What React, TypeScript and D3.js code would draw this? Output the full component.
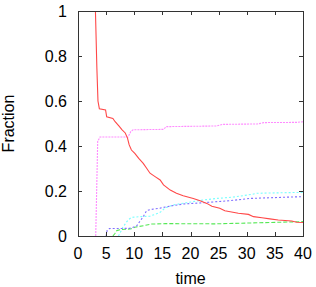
import React from 'react';
import * as d3 from 'd3';

// [time, fraction] pairs
const redSeries: [number, number][] = [
  [3.1, 1.0], [3.35, 0.75], [3.55, 0.6], [3.8, 0.565], [4.9, 0.56], [5.1, 0.53],
  [6.2, 0.522], [6.6, 0.508], [7.3, 0.488], [7.8, 0.473], [8.4, 0.458], [8.8, 0.435],
  [9.1, 0.405], [9.5, 0.382], [10.1, 0.367], [10.8, 0.345], [11.6, 0.323], [12.2, 0.301],
  [12.8, 0.279], [13.7, 0.264], [14.6, 0.249], [15.2, 0.227], [16.4, 0.204], [17.5, 0.19],
  [18.7, 0.179], [20.5, 0.167], [21.7, 0.157], [22.9, 0.145], [23.8, 0.132], [25.2, 0.123],
  [26.1, 0.112], [27.3, 0.107], [28.5, 0.101], [30.3, 0.096], [31.2, 0.086], [32.7, 0.081],
  [34.1, 0.076], [35.6, 0.071], [38.0, 0.067], [38.9, 0.061], [40, 0.06],
];
const magentaSeries: [number, number][] = [
  [3.15, 0], [3.5, 0.42], [3.9, 0.44], [8.9, 0.44], [9.4, 0.465], [9.8, 0.472],
  [15.2, 0.474], [15.7, 0.486], [24.6, 0.489], [25.7, 0.496], [31.9, 0.498],
  [33, 0.504], [39, 0.505], [40, 0.508],
];
const greenSeries: [number, number][] = [
  [6.2, 0], [6.6, 0.012], [6.9, 0.024], [7.5, 0.028], [9.5, 0.032], [10.1, 0.039],
  [11.9, 0.047], [13.1, 0.053], [15.5, 0.055], [24.4, 0.054], [29.1, 0.057],
  [35.6, 0.061], [40, 0.064],
];
const cyanSeries: [number, number][] = [
  [7.2, 0], [8.0, 0.04], [8.9, 0.071], [9.5, 0.083], [11, 0.086], [12.8, 0.088],
  [14.6, 0.105], [15.5, 0.125], [16.9, 0.138], [19.3, 0.148], [22.3, 0.16],
  [24.7, 0.167], [27.6, 0.173], [30.9, 0.185], [31.8, 0.19], [40, 0.194],
];
const blueSeries: [number, number][] = [
  [5.0, 0], [5.2, 0.027], [5.6, 0.033], [9.2, 0.034], [10.4, 0.044], [11.6, 0.086],
  [12.2, 0.113], [13, 0.118], [14.6, 0.124], [16.4, 0.133], [18.7, 0.142],
  [22.3, 0.148], [27, 0.157], [30.6, 0.167], [40, 0.175],
];

const xTicks = [0, 5, 10, 15, 20, 25, 30, 35, 40];
const yTicks = [0, 0.2, 0.4, 0.6, 0.8, 1];

const W = 316, H = 287;
const left = 78, right = 303, top = 11, bottom = 236;
const font = '"Liberation Sans", Arial, Helvetica, sans-serif';

export default function App() {
  const x = d3.scaleLinear().domain([0, 40]).range([left, right]);
  const y = d3.scaleLinear().domain([0, 1]).range([bottom, top]);
  const line = d3.line<[number, number]>().x(d => x(d[0])).y(d => y(d[1]));

  const series = [
    { data: magentaSeries, color: '#ff8cff', dash: '2,1' },
    { data: greenSeries, color: '#55e855', dash: '4,2' },
    { data: cyanSeries, color: '#77ffff', dash: '2,2' },
    { data: blueSeries, color: '#8070ff', dash: '2,2' },
    { data: redSeries, color: '#ff4848', dash: null },
  ];

  const tickLen = 4;

  return (
    <svg width={W} height={H} style={{ position: 'absolute', left: 0, top: 0, background: '#fff' }}>
      <defs>
        <clipPath id="plot">
          <rect x={left} y={top} width={right - left} height={bottom - top} />
        </clipPath>
      </defs>
      <g clipPath="url(#plot)">
        {series.map((s, i) => (
          <path key={i} d={line(s.data) || ''} fill="none" stroke={s.color}
            strokeWidth={1.1} strokeDasharray={s.dash || undefined} />
        ))}
      </g>
      {/* ticks, mirrored on all sides */}
      <g stroke="#333" strokeWidth={1}>
        {xTicks.map(t => (
          <g key={'x' + t}>
            <line x1={Math.round(x(t)) + 0.5} x2={Math.round(x(t)) + 0.5} y1={bottom} y2={bottom - tickLen} />
            <line x1={Math.round(x(t)) + 0.5} x2={Math.round(x(t)) + 0.5} y1={top} y2={top + tickLen} />
          </g>
        ))}
        {yTicks.map(t => (
          <g key={'y' + t}>
            <line x1={left} x2={left + tickLen} y1={Math.round(y(t)) + 0.5} y2={Math.round(y(t)) + 0.5} />
            <line x1={right} x2={right - tickLen} y1={Math.round(y(t)) + 0.5} y2={Math.round(y(t)) + 0.5} />
          </g>
        ))}
      </g>
      <rect x={left + 0.5} y={top + 0.5} width={right - left} height={bottom - top}
        fill="none" stroke="#333" strokeWidth={1} />
      <g fontFamily={font} fontSize={16} fill="#000">
        {xTicks.map(t => (
          <text key={'xl' + t} x={x(t)} y={259} textAnchor="middle">{t}</text>
        ))}
        {yTicks.map(t => (
          <text key={'yl' + t} x={67} y={y(t) + 6} textAnchor="end">{t}</text>
        ))}
        <text x={(left + right) / 2} y={284} textAnchor="middle">time</text>
        <text transform={`translate(14,${(top + bottom) / 2}) rotate(-90)`} textAnchor="middle">Fraction</text>
      </g>
    </svg>
  );
}
